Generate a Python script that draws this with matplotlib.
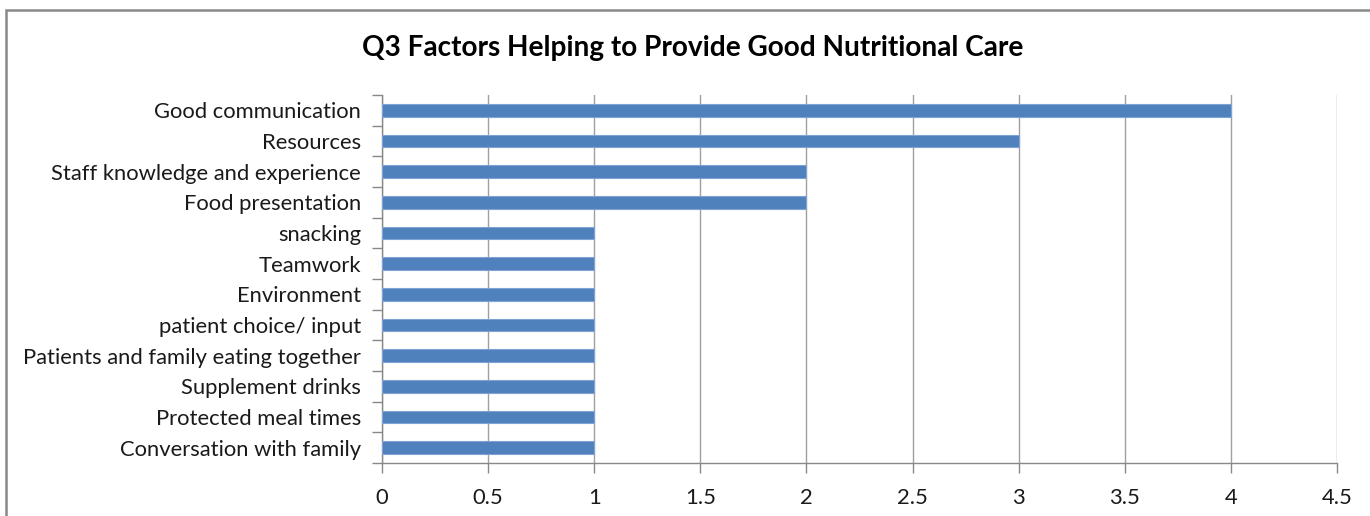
import matplotlib
matplotlib.use("Agg")
import matplotlib.pyplot as plt
from matplotlib.patches import Rectangle

plt.rcParams['font.family'] = ['Lato', 'DejaVu Sans']

categories = ["Good communication", "Resources", "Staff knowledge and experience",
              "Food presentation", "snacking", "Teamwork", "Environment",
              "patient choice/ input", "Patients and family eating together",
              "Supplement drinks", "Protected meal times", "Conversation with family"]
values = [4, 3, 2, 2, 1, 1, 1, 1, 1, 1, 1, 1]
xticks = [0, 0.5, 1, 1.5, 2, 2.5, 3, 3.5, 4, 4.5]
xticklabels = ["0", "0.5", "1", "1.5", "2", "2.5", "3", "3.5", "4", "4.5"]
title = "Q3 Factors Helping to Provide Good Nutritional Care"

W, H = 1370, 516
fig = plt.figure(figsize=(W/100, H/100), dpi=100)
ax = fig.add_axes([382/W, 1-463/H, (1337-382)/W, (463-95)/H])

n = len(categories)
ypos = list(range(n))[::-1]
ax.barh(ypos, values, height=0.42, color="#4F81BD", edgecolor="#7FA3D3", linewidth=0.8, zorder=3)
ax.set_ylim(-0.5, n-0.5)
ax.set_xlim(0, 4.5)
ax.set_xticks(xticks)
ax.set_xticklabels(xticklabels)
ax.set_yticks(ypos)
ax.set_yticklabels(categories)
ax.set_yticks([i - 0.5 for i in range(n+1)], minor=True)
ax.tick_params(axis='y', which='major', length=0, pad=15, labelsize=15.8, labelcolor="#1a1a1a")
ax.tick_params(axis='y', which='minor', length=7, color="#888888", width=1)
ax.tick_params(axis='x', which='major', length=7, color="#888888", width=1, pad=11, labelsize=15.8, labelcolor="#1a1a1a")
ax.grid(axis='x', color="#9f9f9f", linewidth=1, zorder=0)
for s in ['top', 'right']:
    ax.spines[s].set_visible(False)
for s in ['left', 'bottom']:
    ax.spines[s].set_color("#888888")
    ax.spines[s].set_linewidth(1)

fig.text(693/W, 1-48/H, title, ha='center', va='center', fontsize=20.2, fontweight='bold', color="#000000")

fig.patches.append(Rectangle((6/W, -0.1), 1.2, 1 - 10/H + 0.1, transform=fig.transFigure,
                             fill=False, edgecolor="#888888", linewidth=1.8))

fig.savefig("out.png", dpi=100)
